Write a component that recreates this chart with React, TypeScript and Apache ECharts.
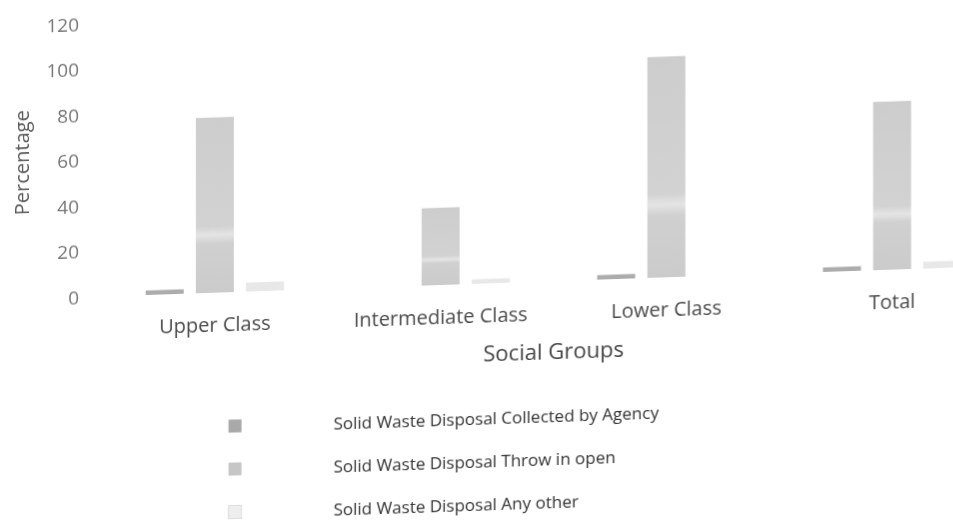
import React, { useEffect, useRef } from "react";
import * as echarts from "echarts";

const categories = ["Upper Class", "Intermediate Class", "Lower Class", "Total"];
const seriesNames = [
  "Solid Waste Disposal Collected by Agency",
  "Solid Waste Disposal Throw in open",
  "Solid Waste Disposal Any other",
];
const collectedByAgency = [2, 0, 2, 2];
const throwInOpen = [77, 34, 97, 74];
const anyOther = [4, 2, 0, 3];
const yMin = 0;
const yMax = 120;
const yStep = 20;

const FONT = "'Open Sans', 'DejaVu Sans', sans-serif";

export default function App() {
  const ref = useRef<HTMLDivElement>(null);

  useEffect(() => {
    if (!ref.current) return;
    const chart = echarts.init(ref.current, null, { renderer: "svg" });
    const throwColor = new echarts.graphic.LinearGradient(0, 0, 0, 1, [
      { offset: 0, color: "#cdcdcd" },
      { offset: 0.62, color: "#d2d2d2" },
      { offset: 0.67, color: "#e4e4e4" },
      { offset: 0.72, color: "#d0d0d0" },
      { offset: 1, color: "#cbcbcb" },
    ]);
    chart.setOption({
      animation: false,
      backgroundColor: "#ffffff",
      textStyle: { fontFamily: FONT },
      grid: { left: 102, top: 27, right: 5, height: 273, containLabel: false },
      legend: {
        orient: "vertical",
        left: 228,
        top: 424,
        padding: 0,
        itemWidth: 13,
        itemHeight: 13,
        itemGap: 23,
        icon: "rect",
        textStyle: {
          fontFamily: FONT,
          fontSize: 17,
          color: "#333333",
          lineHeight: 20,
          padding: [0, 0, 0, 87],
        },
        data: [
          { name: seriesNames[0], itemStyle: { color: "#a9a9a9" } },
          { name: seriesNames[1], itemStyle: { color: "#c6c6c6" } },
          {
            name: seriesNames[2],
            itemStyle: { color: "#eeeeee", borderColor: "#dddddd", borderWidth: 1 },
          },
        ],
      },
      xAxis: {
        type: "category",
        data: categories,
        axisLine: { show: false },
        axisTick: { show: false },
        axisLabel: {
          interval: 0,
          margin: 21,
          fontSize: 20,
          color: "#4a4a4a",
          fontFamily: FONT,
        },
        name: "Social Groups",
        nameLocation: "middle",
        nameGap: 58,
        nameTextStyle: { fontSize: 22, color: "#444444", fontFamily: FONT },
      },
      yAxis: {
        type: "value",
        min: yMin,
        max: yMax,
        interval: yStep,
        axisLine: { show: false },
        axisTick: { show: false },
        splitLine: { show: false },
        axisLabel: { margin: 23, fontSize: 19, color: "#777777", fontFamily: FONT },
        name: "Percentage",
        nameLocation: "middle",
        nameGap: 71,
        nameTextStyle: { fontSize: 20, color: "#5a5a5a", fontFamily: FONT },
      },
      series: [
        {
          name: seriesNames[0],
          type: "bar",
          data: collectedByAgency,
          barWidth: 38,
          barGap: "32%",
          itemStyle: { color: "#acacac" },
        },
        {
          name: seriesNames[1],
          type: "bar",
          data: throwInOpen,
          barWidth: 38,
          barGap: "32%",
          itemStyle: { color: throwColor },
        },
        {
          name: seriesNames[2],
          type: "bar",
          data: anyOther,
          barWidth: 38,
          barGap: "32%",
          itemStyle: { color: "#e8e8e8" },
        },
      ],
    });
    return () => chart.dispose();
  }, []);

  return (
    <div
      ref={ref}
      style={{
        position: "fixed",
        left: 0,
        top: 0,
        width: 1010,
        height: 560,
        background: "#ffffff",
        transform: "skewY(-1.95deg)",
        transformOrigin: "0 0",
      }}
    />
  );
}
